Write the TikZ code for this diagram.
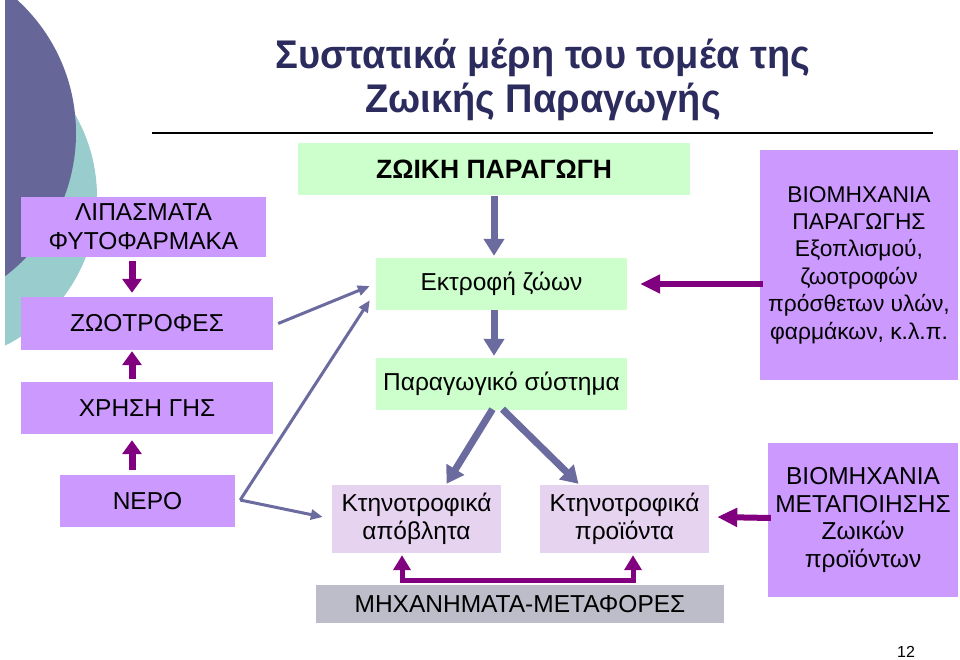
\documentclass[tikz,border=0pt]{standalone}
\usepackage{fontspec}
\setmainfont{Liberation Sans}
\usetikzlibrary{arrows.meta,calc}
\definecolor{boxpurple}{HTML}{CC99FF}
\definecolor{boxgreen}{HTML}{CCFFCC}
\definecolor{boxlav}{HTML}{E6D3F0}
\definecolor{boxgrey}{HTML}{BDBDC9}
\definecolor{arrpurple}{HTML}{800080}
\definecolor{arrslate}{HTML}{6B6BA0}
\definecolor{circslate}{HTML}{666699}
\definecolor{circteal}{HTML}{99CCCC}
\definecolor{titlenavy}{HTML}{2B2B5E}
\begin{document}
\begin{tikzpicture}[x=1pt,y=-1pt,
  box/.style={inner sep=0pt,align=center,font=\fontsize{24.5}{27.5}\selectfont},
  pbox/.style={box,fill=boxpurple},
  gbox/.style={box,fill=boxgreen},
  lbox/.style={box,fill=boxlav},
  greybox/.style={box,fill=boxgrey},
  slatebig/.style={draw=arrslate,line width=7pt,-{Triangle[width=20pt,length=17pt]}},
  purplebig/.style={draw=arrpurple,line width=7pt,-{Triangle[width=19pt,length=14pt]}},
  purplehoriz/.style={draw=arrpurple,line width=6pt,-{Triangle[width=18pt,length=20pt]}},
  slatethin/.style={draw=arrslate,line width=3pt,-{Triangle[width=10pt,length=12pt]}},
  purpledouble/.style={draw=arrpurple,line width=5pt,line join=miter,{Triangle[width=17pt,length=15pt]}-{Triangle[width=17pt,length=15pt]}}
]
\useasboundingbox (0,0) rectangle (960,660);
\fill[white] (0,0) rectangle (960,660);
\begin{scope}
\clip (5,0) rectangle (960,660);
\fill[circteal] (-69,197) circle[radius=166pt];
\fill[circslate] (-104,133) circle[radius=180pt];
\end{scope}

% title
\node[text=titlenavy,font=\fontsize{40}{46}\bfseries\selectfont] (t1) at (543,58) {\scalebox{0.95}[1]{Συστατικά μέρη του τομέα της}};
\node[text=titlenavy,font=\fontsize{40}{46}\bfseries\selectfont] (t2) at (543,102) {\scalebox{0.95}[1]{Ζωικής Παραγωγής}};
\draw[line width=1.5pt] (152,133) coordinate (hl1) -- (933,133) coordinate (hl2);

% nodes
\node[gbox,minimum width=392pt,minimum height=52pt,font=\fontsize{26.5}{30}\bfseries\selectfont] (zp) at (494,169) {ΖΩΙΚΗ ΠΑΡΑΓΩΓΗ};
\node[gbox,minimum width=251pt,minimum height=52pt] (ekt) at (501.5,284) {Εκτροφή ζώων};
\node[gbox,minimum width=251pt,minimum height=52pt] (par) at (501.5,384) {Παραγωγικό σύστημα};
\node[pbox,minimum width=245pt,minimum height=60pt,font=\fontsize{24.5}{29}\selectfont] (lip) at (143.5,227) {ΛΙΠΑΣΜΑΤΑ\\ΦΥΤΟΦΑΡΜΑΚΑ};
\node[pbox,minimum width=252pt,minimum height=53pt] (zoo) at (147,323.5) {ΖΩΟΤΡΟΦΕΣ};
\node[pbox,minimum width=252pt,minimum height=52pt] (gis) at (147,408) {ΧΡΗΣΗ ΓΗΣ};
\node[pbox,minimum width=175pt,minimum height=52pt] (nero) at (147.5,501) {ΝΕΡΟ};
\node[pbox,minimum width=198pt,minimum height=230pt,font=\fontsize{22.8}{27.4}\selectfont] (bio1) at (859,265) {ΒΙΟΜΗΧΑΝΙΑ\\ΠΑΡΑΓΩΓΗΣ\\Εξοπλισμού,\\ζωοτροφών\\πρόσθετων υλών,\\φαρμάκων, κ.λ.π.};
\node[pbox,minimum width=190pt,minimum height=154pt] (bio2) at (863,520) {ΒΙΟΜΗΧΑΝΙΑ\\ΜΕΤΑΠΟΙΗΣΗΣ\\Ζωικών\\προϊόντων};
\node[lbox,minimum width=169pt,minimum height=68pt] (apo) at (416.5,519) {Κτηνοτροφικά\\απόβλητα};
\node[lbox,minimum width=169pt,minimum height=68pt] (pro) at (624.5,519) {Κτηνοτροφικά\\προϊόντα};
\node[greybox,minimum width=408pt,minimum height=38pt] (mix) at (520,604) {ΜΗΧΑΝΗΜΑΤΑ-ΜΕΤΑΦΟΡΕΣ};
\node[inner sep=0pt,font=\fontsize{16}{18}\selectfont] (pg) at (906,652) {12};

% slate thick arrows
\draw[slatebig] ([yshift=-1pt]zp.south) -- ([xshift=-7.5pt,yshift=2pt]ekt.north);
\draw[slatebig] ([xshift=-7.5pt]ekt.south) -- ([xshift=-7.5pt,yshift=2pt]par.north);
\draw[slatebig] ([xshift=-9pt,yshift=1pt]par.south) -- ([xshift=30pt,yshift=1pt]apo.north);
\draw[slatebig] ([xshift=1pt,yshift=1pt]par.south) -- ([xshift=-46pt,yshift=1pt]pro.north);

% slate thin arrows
\draw[slatethin] ([xshift=5pt]zoo.east) -- ([xshift=-6pt,yshift=-2pt]ekt.west);
\draw[slatethin] ([xshift=5pt,yshift=1pt]nero.east) coordinate (nr) -- ([xshift=-6pt,yshift=10pt]ekt.south west);
\draw[slatethin] (nr) -- ([xshift=-9pt,yshift=2pt]apo.west);

% purple arrows
\draw[purplebig] ([xshift=-11.5pt,yshift=-4pt]lip.south) -- ([xshift=-15pt,yshift=4pt]zoo.north);
\draw[purplebig] ([xshift=-15pt,yshift=3pt]gis.north) -- ([xshift=-15pt,yshift=-1pt]zoo.south);
\draw[purplebig] ([xshift=-15.5pt,yshift=5pt]nero.north) -- ([xshift=-15pt,yshift=-6pt]gis.south);
\draw[purplehoriz] ([xshift=3pt]bio1.west |- ekt.east) -- ([xshift=13pt]ekt.east);
\draw[purplehoriz] ([xshift=3pt,yshift=2pt]bio2.west) -- ([xshift=8pt,yshift=2pt]pro.east);
\draw[purpledouble] ([xshift=-14.5pt,yshift=-2pt]apo.south) -- ++(0,25) -| ([xshift=8.5pt,yshift=-2pt]pro.south);
\end{tikzpicture}
\end{document}
